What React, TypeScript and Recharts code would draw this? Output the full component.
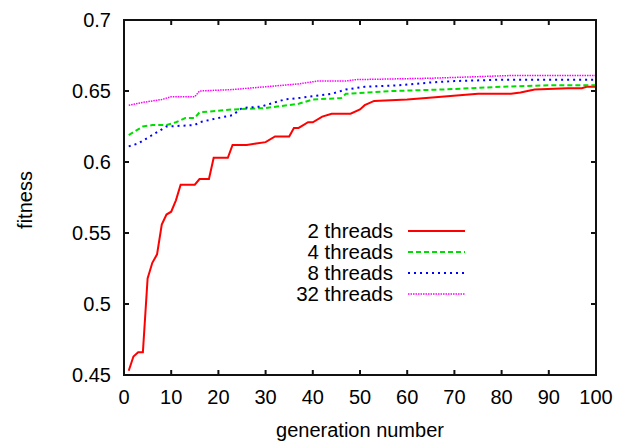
import { Line, LineChart, ReferenceArea, XAxis, YAxis } from "recharts";

const FONT = "'Liberation Sans', Arial, Helvetica, sans-serif";

const X_TICKS = [0, 10, 20, 30, 40, 50, 60, 70, 80, 90, 100];
const Y_TICKS = [0.45, 0.5, 0.55, 0.6, 0.65, 0.7];

const gen2 = [1, 2, 3, 4, 5, 6, 7, 8, 9, 10, 11, 12, 15, 16, 18, 19, 22, 23, 26, 28, 30, 32, 35, 36, 37, 39, 40, 42, 44, 48, 50, 51, 53, 60, 64, 75, 82, 84, 87, 94, 97, 98, 100];
const fit2 = [0.453, 0.463, 0.466, 0.466, 0.518, 0.529, 0.535, 0.556, 0.563, 0.565, 0.573, 0.584, 0.584, 0.588, 0.588, 0.603, 0.603, 0.612, 0.612, 0.613, 0.614, 0.618, 0.618, 0.624, 0.624, 0.628, 0.628, 0.632, 0.634, 0.634, 0.637, 0.64, 0.643, 0.644, 0.645, 0.648, 0.648, 0.649, 0.651, 0.652, 0.652, 0.653, 0.653];

const gen4 = [1, 4, 6, 9, 11, 13, 15, 16, 23, 30, 37, 40, 46, 47, 57, 67, 80, 90, 100];
const fit4 = [0.619, 0.625, 0.626, 0.626, 0.628, 0.631, 0.631, 0.635, 0.637, 0.638, 0.641, 0.644, 0.645, 0.648, 0.65, 0.651, 0.653, 0.654, 0.654];

const gen8 = [1, 3, 6, 9, 15, 16, 20, 23, 25, 29, 31, 34, 37, 44, 47, 51, 58, 65, 70, 80, 100];
const fit8 = [0.611, 0.613, 0.619, 0.625, 0.626, 0.628, 0.631, 0.633, 0.638, 0.639, 0.641, 0.644, 0.645, 0.648, 0.651, 0.653, 0.654, 0.656, 0.657, 0.658, 0.658];

const gen32 = [1, 4, 8, 10, 15, 16, 23, 30, 37, 41, 47, 49, 65, 83, 100];
const fit32 = [0.64, 0.642, 0.644, 0.646, 0.646, 0.65, 0.651, 0.653, 0.655, 0.657, 0.657, 0.658, 0.659, 0.661, 0.661];

const toRows = (gens: number[], vals: number[]) =>
  gens.map((g, i) => ({ gen: g, fitness: vals[i] }));

// the 32-thread curve is bound to the mirrored top/right axes (same domains)
const SERIES = [
  { name: "2 threads", data: toRows(gen2, fit2), color: "#ff0000", dash: undefined, width: 2, x: "bottom", y: "left" },
  { name: "4 threads", data: toRows(gen4, fit4), color: "#00dd00", dash: "5 3", width: 2, x: "bottom", y: "left" },
  { name: "8 threads", data: toRows(gen8, fit8), color: "#0000ff", dash: "2 4", width: 2, x: "bottom", y: "left" },
  { name: "32 threads", data: toRows(gen32, fit32), color: "#ff00ff", dash: "1.5 1", width: 1.5, x: "top", y: "right" },
];

const noLabel = () => <g />;

function LegendBox() {
  return (
    <div
      style={{
        position: "absolute",
        left: 280,
        top: 220,
        fontFamily: FONT,
        fontSize: 20.5,
        color: "#000",
        pointerEvents: "none",
      }}
    >
      {SERIES.map((s) => (
        <div key={s.name} style={{ display: "flex", alignItems: "center", height: 21 }}>
          <span style={{ width: 113, textAlign: "right", lineHeight: "21px" }}>{s.name}</span>
          <svg width={57} height={4} style={{ marginLeft: 15 }}>
            <line x1={0} y1={2} x2={57} y2={2} stroke={s.color} strokeWidth={s.width} strokeDasharray={s.dash} />
          </svg>
        </div>
      ))}
    </div>
  );
}

export default function App() {
  const tickStyle = { fontSize: 20, fill: "#000", fontFamily: FONT };
  return (
    <div style={{ position: "absolute", left: 0, top: 0, width: 620, height: 445, background: "#fff" }}>
      <LineChart width={620} height={445} margin={{ top: 18, right: 22, left: 0, bottom: 0 }}>
        <XAxis
          xAxisId="bottom"
          dataKey="gen"
          type="number"
          domain={[0, 100]}
          ticks={X_TICKS}
          height={70}
          stroke="#111"
          strokeWidth={2}
          tickSize={-5}
          tickMargin={20}
          tick={tickStyle}
          label={{
            content: () => (
              <text x={360} y={437} textAnchor="middle" fontSize={20} fontFamily={FONT} fill="#000">
                generation number
              </text>
            ),
          }}
        />
        <XAxis
          xAxisId="top"
          dataKey="gen"
          orientation="top"
          type="number"
          domain={[0, 100]}
          ticks={X_TICKS}
          height={2}
          stroke="#111"
          strokeWidth={2}
          tickSize={-5}
          tick={noLabel}
        />
        <YAxis
          yAxisId="left"
          type="number"
          domain={[0.45, 0.7]}
          ticks={Y_TICKS}
          width={124}
          stroke="#111"
          strokeWidth={2}
          tickSize={-5}
          tickMargin={18}
          tick={tickStyle}
          tickFormatter={(v: number) => String(v)}
          label={{
            content: () => (
              <text
                x={32}
                y={200}
                transform="rotate(-90 32 200)"
                textAnchor="middle"
                fontSize={20}
                fontFamily={FONT}
                fill="#000"
              >
                fitness
              </text>
            ),
          }}
        />
        <YAxis
          yAxisId="right"
          orientation="right"
          type="number"
          domain={[0.45, 0.7]}
          ticks={Y_TICKS}
          width={2}
          stroke="#111"
          strokeWidth={2}
          tickSize={-5}
          tick={noLabel}
        />
        <ReferenceArea
          xAxisId="bottom"
          yAxisId="left"
          x1={0}
          x2={100}
          y1={0.45}
          y2={0.7}
          fill="none"
          fillOpacity={0}
          stroke="#111"
          strokeOpacity={1}
          strokeWidth={2}
        />
        {SERIES.map((s) => (
          <Line
            key={s.name}
            xAxisId={s.x}
            yAxisId={s.y}
            data={s.data}
            dataKey="fitness"
            name={s.name}
            type="linear"
            stroke={s.color}
            strokeWidth={s.width}
            strokeDasharray={s.dash}
            dot={false}
            activeDot={false}
            isAnimationActive={false}
          />
        ))}
      </LineChart>
      <LegendBox />
    </div>
  );
}
